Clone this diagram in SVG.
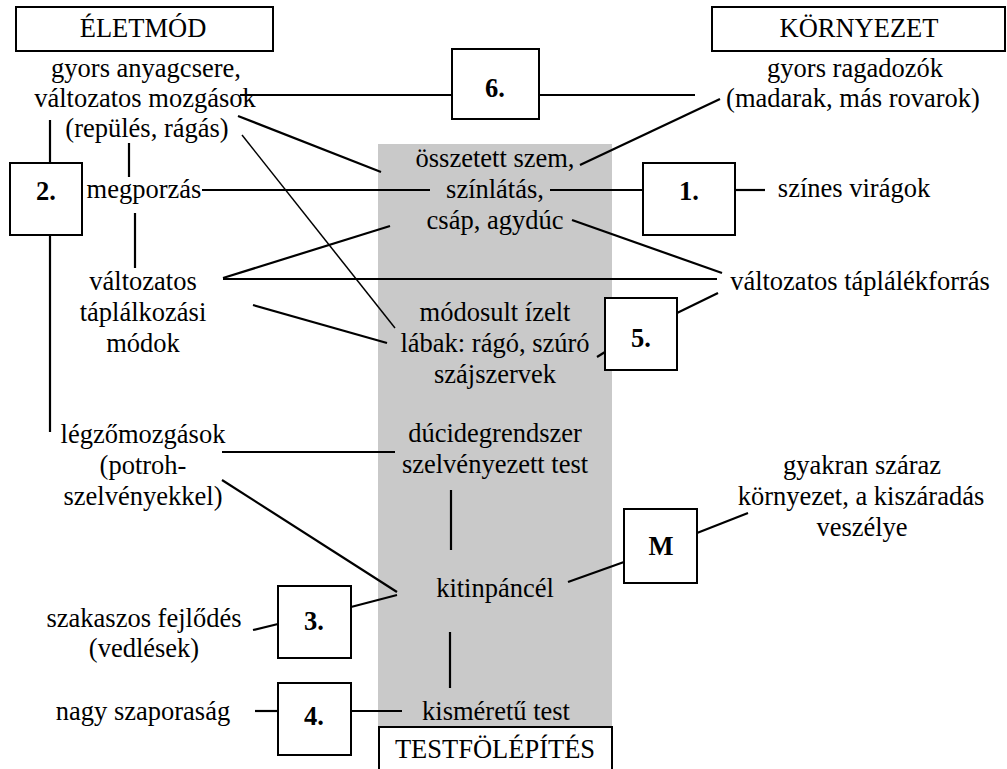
<svg xmlns="http://www.w3.org/2000/svg" width="1007" height="769" viewBox="0 0 1007 769">
<style>
text{font-family:"Liberation Serif","Times New Roman",serif;font-size:26.5px;fill:#000;text-anchor:middle}
.b{font-weight:bold}
.box{fill:#fff;stroke:#000;stroke-width:2}
.hdr{fill:#fff;stroke:#000;stroke-width:2}
#connectors line{stroke:#000;stroke-width:2.2}
#connectors line.thin{stroke-width:1.5}
</style>
<rect x="0" y="0" width="1007" height="769" fill="#fff"/>
<rect id="column" x="378" y="144" width="234" height="583" fill="#c9c9c9"/>

<g id="connectors">
<line x1="240" y1="95" x2="452" y2="95"/>
<line x1="539" y1="95" x2="695" y2="95"/>
<line x1="238" y1="116" x2="381" y2="172"/>
<line class="thin" x1="242" y1="135" x2="395" y2="328"/>
<line x1="50" y1="120" x2="50" y2="163"/>
<line x1="50" y1="235" x2="50" y2="432"/>
<line x1="129" y1="143" x2="129" y2="177"/>
<line x1="202" y1="190" x2="430" y2="190"/>
<line x1="135" y1="213" x2="135" y2="268"/>
<line x1="223" y1="278" x2="390" y2="226"/>
<line x1="223" y1="279" x2="717" y2="279"/>
<line x1="253" y1="305" x2="387" y2="343"/>
<line x1="550" y1="190" x2="643" y2="190"/>
<line x1="735" y1="190" x2="765" y2="190"/>
<line x1="720" y1="99" x2="580" y2="165"/>
<line x1="572" y1="220" x2="722" y2="273"/>
<line x1="597" y1="357" x2="605" y2="352"/>
<line x1="677" y1="313" x2="718" y2="293"/>
<line x1="222" y1="452" x2="395" y2="452"/>
<line x1="222" y1="480" x2="397" y2="592"/>
<line x1="451" y1="490" x2="451" y2="550"/>
<line x1="351" y1="607" x2="397" y2="595"/>
<line x1="253" y1="630" x2="278" y2="624"/>
<line x1="450" y1="632" x2="450" y2="688"/>
<line x1="255" y1="711" x2="278" y2="711"/>
<line x1="351" y1="711" x2="402" y2="711"/>
<line x1="568" y1="582" x2="624" y2="562"/>
<line x1="697" y1="533" x2="748" y2="513"/>
</g>

<g id="hdr-eletmod"><rect class="hdr" x="16" y="7" width="257" height="44"/><text x="143" y="37">ÉLETMÓD</text></g>
<g id="hdr-kornyezet"><rect class="hdr" x="712" y="7" width="293" height="44"/><text x="859" y="37">KÖRNYEZET</text></g>
<g id="hdr-testfelepites"><path class="hdr" d="M379,772 V727 H612 V772"/><text x="495" y="758">TESTFÖLÉPÍTÉS</text></g>

<g id="box6"><rect class="box" x="452" y="49" width="87" height="70"/><text class="b" x="495" y="97">6.</text></g>
<g id="box1"><rect class="box" x="643" y="163" width="92" height="72"/><text class="b" x="689" y="200">1.</text></g>
<g id="box2"><rect class="box" x="10" y="163" width="72" height="72"/><text class="b" x="46" y="200">2.</text></g>
<g id="box5"><rect class="box" x="605" y="298" width="72" height="72"/><text class="b" x="641" y="347">5.</text></g>
<g id="box3"><rect class="box" x="278" y="586" width="73" height="72"/><text class="b" x="314" y="630">3.</text></g>
<g id="box4"><rect class="box" x="278" y="683" width="73" height="72"/><text class="b" x="314" y="725">4.</text></g>
<g id="boxM"><rect class="box" x="624" y="509" width="73" height="74"/><text class="b" x="661" y="555">M</text></g>

<g id="n-anyagcsere"><text x="146" y="77">gyors anyagcsere,</text><text x="145" y="107">változatos mozgások</text><text x="147" y="137">(repülés, rágás)</text></g>
<g id="n-megporzas"><text x="144" y="198">megporzás</text></g>
<g id="n-taplalkozasi"><text x="143" y="290">változatos</text><text x="143" y="321">táplálkozási</text><text x="143" y="352">módok</text></g>
<g id="n-legzo"><text x="143" y="443">légzőmozgások</text><text x="143" y="474">(potroh-</text><text x="143" y="505">szelvényekkel)</text></g>
<g id="n-szakaszos"><text x="144" y="627">szakaszos fejlődés</text><text x="144" y="657">(vedlések)</text></g>
<g id="n-szaporasag"><text x="143" y="720">nagy szaporaság</text></g>

<g id="n-szem"><text x="495" y="167">összetett szem,</text><text x="495" y="198">színlátás,</text><text x="495" y="229">csáp, agydúc</text></g>
<g id="n-labak"><text x="495" y="321">módosult ízelt</text><text x="495" y="352">lábak: rágó, szúró</text><text x="495" y="383">szájszervek</text></g>
<g id="n-duc"><text x="495" y="442">dúcidegrendszer</text><text x="495" y="473">szelvényezett test</text></g>
<g id="n-kitin"><text x="495" y="597">kitinpáncél</text></g>
<g id="n-kismeretu"><text x="496" y="720">kisméretű test</text></g>

<g id="n-ragadozok"><text x="855" y="77">gyors ragadozók</text><text x="853" y="107">(madarak, más rovarok)</text></g>
<g id="n-viragok"><text x="854" y="197">színes virágok</text></g>
<g id="n-taplalekforras"><text x="860" y="290">változatos táplálékforrás</text></g>
<g id="n-szaraz"><text x="862" y="474">gyakran száraz</text><text x="861" y="505">környezet, a kiszáradás</text><text x="862" y="536">veszélye</text></g>
</svg>
